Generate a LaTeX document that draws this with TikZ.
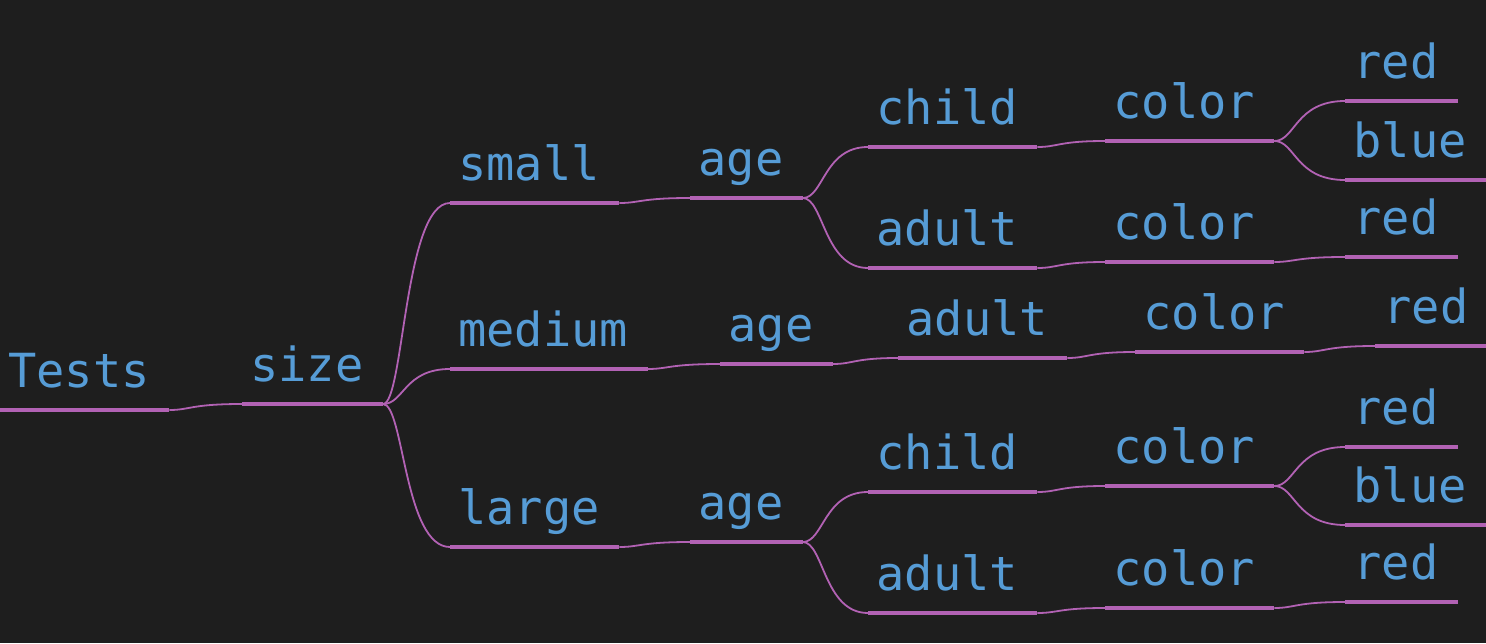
\documentclass[tikz,border=0pt]{standalone}
\usepackage{fontspec}
\newfontfamily\mapfont{DejaVu Sans Mono}
\usetikzlibrary{calc}
\definecolor{canvas}{HTML}{1E1E1E}
\definecolor{labelblue}{HTML}{569CD6}
\definecolor{stemmagenta}{RGB}{178,98,180}
\tikzstyle{topic}=[anchor=south west,inner xsep=0pt,inner ysep=11pt,text depth=0pt,text=labelblue,font=\mapfont\fontsize{23.5pt}{28pt}\selectfont,execute at begin node={\hspace*{4pt}},execute at end node={\hspace*{9.5pt}}]
\tikzstyle{stem}=[draw=stemmagenta,line width=2.2pt]
\tikzstyle{branch}=[draw=stemmagenta,line width=0.9pt]

\begin{document}
\begin{tikzpicture}[x=0.5pt,y=-0.5pt]
    \fill[canvas] (0,0) rectangle (1486,643);
    \useasboundingbox (0,0) rectangle (1486,643);

    % First the topics, each on its own underline
    \foreach \pos/\name/\label in {{(0,410)/tests/Tests}, {(242,404)/size/size},
        {(450,203)/small/small}, {(690,198)/smallage/age},
        {(868,147)/smallchild/child}, {(1105,141)/smallchildcolor/color}, {(1345,101)/smallchildred/red}, {(1345,180)/smallchildblue/blue},
        {(868,268)/smalladult/adult}, {(1105,262)/smalladultcolor/color}, {(1345,257)/smalladultred/red},
        {(450,369)/medium/medium}, {(720,364)/mediumage/age}, {(898,358)/mediumadult/adult}, {(1135,352)/mediumcolor/color}, {(1375,346)/mediumred/red},
        {(450,547)/large/large}, {(690,542)/largeage/age},
        {(868,492)/largechild/child}, {(1105,486)/largechildcolor/color}, {(1345,447)/largechildred/red}, {(1345,525)/largechildblue/blue},
        {(868,613)/largeadult/adult}, {(1105,608)/largeadultcolor/color}, {(1345,602)/largeadultred/red}}
    {
        \node[topic] (\name) at \pos {\label};
        \path[stem] (\name.south west) -- (\name.south east);
    }

    % Connect parent and child underlines
    \foreach \source/\dest in {tests/size, size/small, size/medium, size/large,
        small/smallage, smallage/smallchild, smallage/smalladult,
        smallchild/smallchildcolor, smallchildcolor/smallchildred, smallchildcolor/smallchildblue,
        smalladult/smalladultcolor, smalladultcolor/smalladultred,
        medium/mediumage, mediumage/mediumadult, mediumadult/mediumcolor, mediumcolor/mediumred,
        large/largeage, largeage/largechild, largeage/largeadult,
        largechild/largechildcolor, largechildcolor/largechildred, largechildcolor/largechildblue,
        largeadult/largeadultcolor, largeadultcolor/largeadultred}
        \path[branch] (\source.south east) .. controls ($(\source.south east)+(10.5pt,0)$) and ($(\source.south east |- \dest.south west)+(10.5pt,0)$) .. (\dest.south west);

\end{tikzpicture}
\end{document}
